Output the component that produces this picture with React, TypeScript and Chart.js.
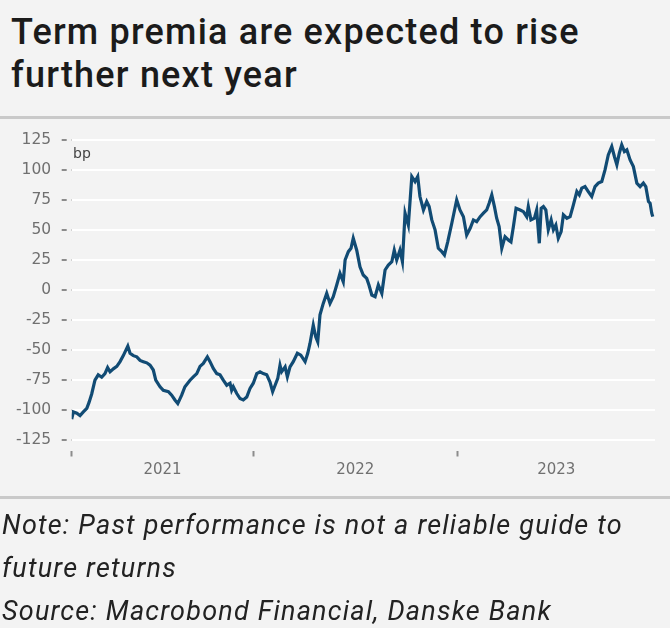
import React, { useEffect, useRef } from 'react';
import { Chart, registerables } from 'chart.js';

Chart.register(...registerables);

// Decimal-year dates of the series
const dates: number[] = [
  2021.110, 2021.118, 2021.135, 2021.151, 2021.167, 2021.184, 2021.195, 2021.208, 2021.224, 2021.240,
  2021.257, 2021.273, 2021.286, 2021.298, 2021.314, 2021.331, 2021.347, 2021.363, 2021.385, 2021.396,
  2021.412, 2021.429, 2021.445, 2021.461, 2021.478, 2021.494, 2021.510, 2021.522, 2021.543, 2021.559,
  2021.584, 2021.600, 2021.616, 2021.630, 2021.649, 2021.665, 2021.690,
  2021.706, 2021.723, 2021.739, 2021.755, 2021.775, 2021.788, 2021.804, 2021.821, 2021.837, 2021.853,
  2021.870, 2021.886, 2021.894, 2021.902, 2021.919, 2021.935, 2021.951, 2021.968, 2021.984, 2022.000,
  2022.017, 2022.033, 2022.049, 2022.066, 2022.082, 2022.095, 2022.107, 2022.120, 2022.131, 2022.139,
  2022.156, 2022.167, 2022.180, 2022.196, 2022.216, 2022.233, 2022.254,
  2022.267, 2022.278, 2022.294, 2022.306, 2022.316, 2022.327, 2022.343, 2022.360, 2022.376, 2022.392,
  2022.409, 2022.425, 2022.441, 2022.450, 2022.466, 2022.479, 2022.490, 2022.507, 2022.523, 2022.539,
  2022.556, 2022.567, 2022.581, 2022.597, 2022.613, 2022.630, 2022.646, 2022.662, 2022.679, 2022.691,
  2022.703, 2022.719, 2022.731,
  2022.744, 2022.760, 2022.777, 2022.793, 2022.806, 2022.817, 2022.834, 2022.850, 2022.862, 2022.875,
  2022.891, 2022.907, 2022.924, 2022.937, 2022.953, 2022.973, 2022.997, 2023.013, 2023.030, 2023.046,
  2023.063, 2023.079, 2023.095, 2023.112, 2023.128, 2023.144, 2023.156, 2023.169, 2023.182, 2023.193,
  2023.205, 2023.218, 2023.234, 2023.250, 2023.263, 2023.275, 2023.288, 2023.308, 2023.324, 2023.340,
  2023.348, 2023.361, 2023.378, 2023.389, 2023.402, 2023.411, 2023.422, 2023.434, 2023.446, 2023.460,
  2023.471, 2023.483, 2023.495, 2023.509, 2023.520, 2023.537, 2023.553, 2023.569, 2023.586, 2023.598,
  2023.610, 2023.626, 2023.642, 2023.659, 2023.675, 2023.691, 2023.708, 2023.724, 2023.740, 2023.757,
  2023.770, 2023.782, 2023.794, 2023.806, 2023.819, 2023.831, 2023.847, 2023.863, 2023.880, 2023.896,
  2023.912, 2023.924, 2023.937, 2023.945, 2023.953, 2023.958,
];

// Term premia, bp
const termPremia: number[] = [
  -108, -102, -103, -105, -102, -99, -94, -87, -75.5, -71,
  -73, -70, -65, -68.5, -66, -64, -60, -55, -47, -53,
  -55, -56, -59, -60, -61, -63, -67, -75.5, -81, -84,
  -85, -88, -92, -95, -88, -81, -75.5,
  -72.7, -70, -64, -61.5, -56, -60, -65.7, -70, -71, -75.5,
  -79.7, -78, -84, -81, -86.6, -90.8, -92, -89.5, -82.4, -78,
  -70, -68.5, -70, -71, -77, -85, -79.7, -74, -63, -68.5,
  -64.4, -72.7, -64.4, -60, -53, -54.6, -60,
  -53, -44.8, -29.5, -39.3, -43.5, -21, -11.4, -3, -11.4, -5.8,
  4, 13.7, 6.7, 24.8, 31.8, 34.6, 43, 33, 19.2, 12.3,
  9.5, 4, -4.4, -5.8, 4, -3, 16.5, 20.6, 23.4, 33,
  24.8, 33, 23.4,
  63.9, 54, 94.5, 90.3, 94.5, 77.8, 66.6, 73.6, 69.4, 58.3,
  50, 34.6, 31.8, 29, 40, 55.5, 75, 66.6, 61, 45.7,
  51.3, 58.3, 56.9, 61, 63.9, 66.6, 72.2, 79.2, 69.4, 59.7,
  52.7, 34.6, 44.3, 41.6, 40, 52.7, 68, 66.6, 65.2, 61,
  69.4, 58.3, 59.7, 66.6, 38.8, 68, 69.4, 66.6, 50, 58.3,
  50, 54, 43, 48.5, 62.5, 59.7, 61, 70.8, 82, 79.2,
  84.8, 86.1, 82, 77.8, 86.1, 89, 90.3, 100, 112.6, 119.6,
  111.2, 104.3, 114, 121, 115.4, 116.8, 108.4, 102.8, 89, 86.1,
  89, 86.1, 73.6, 72.2, 63.9, 61,
];

const xMin = 2021.11;
const xMax = 2023.969;
const yearTickPositions: number[] = [2021.11, 2022, 2023];
const yearLabels: string[] = ['2021', '2022', '2023'];
const yearLabelPositions: number[] = [2021.555, 2022.5, 2023.485];
const yTickValues: number[] = [-125, -100, -75, -50, -25, 0, 25, 50, 75, 100, 125];

const BG = '#f3f3f3';
const FONT = 'Roboto, "DejaVu Sans", sans-serif';
const TICK_FONT = '"DejaVu Sans", sans-serif';

function isYearTick(v: number) {
  return yearTickPositions.some((p) => Math.abs(p - v) < 1e-6);
}

export default function App() {
  const canvasRef = useRef<HTMLCanvasElement | null>(null);

  useEffect(() => {
    if (!canvasRef.current) return;
    const points = dates.map((d, i) => ({ x: d, y: termPremia[i] }));
    const chart = new Chart(canvasRef.current, {
      type: 'line',
      data: {
        datasets: [
          {
            label: 'Term premia',
            data: points,
            borderColor: '#114b74',
            borderWidth: 3.2,
            pointRadius: 0,
            tension: 0,
            fill: false,
          },
        ],
      },
      options: {
        animation: false,
        responsive: false,
        devicePixelRatio: 1,
        layout: { padding: { top: 20, right: 15, bottom: 20.5, left: 0 } },
        plugins: {
          legend: { display: false },
          tooltip: { enabled: false },
        },
        scales: {
          x: {
            type: 'linear',
            min: xMin,
            max: xMax,
            border: { display: false },
            afterBuildTicks: (scale: any) => {
              const vals = [...yearTickPositions, ...yearLabelPositions].sort((a, b) => a - b);
              scale.ticks = vals.map((v) => ({ value: v }));
            },
            afterFit: (scale: any) => {
              scale.height = 40;
            },
            ticks: {
              autoSkip: false,
              maxRotation: 0,
              padding: 5,
              color: '#707070',
              font: { family: TICK_FONT, size: 15 },
              callback: (value: any) => {
                const idx = yearLabelPositions.findIndex((p) => Math.abs(p - Number(value)) < 1e-6);
                return idx >= 0 ? yearLabels[idx] : '';
              },
            },
            grid: {
              drawOnChartArea: false,
              drawTicks: true,
              tickLength: 17,
              tickWidth: 2,
              tickBorderDash: [6, 11],
              tickBorderDashOffset: 6,
              tickColor: (ctx: any) =>
                ctx.tick && isYearTick(ctx.tick.value) ? '#8c8c8c' : 'rgba(0,0,0,0)',
            },
          },
          y: {
            type: 'linear',
            min: -125,
            max: 125,
            border: { display: false },
            afterBuildTicks: (scale: any) => {
              scale.ticks = yTickValues.map((v) => ({ value: v }));
            },
            afterFit: (scale: any) => {
              scale.width = 71.7;
            },
            ticks: {
              padding: 10.5,
              color: '#707070',
              font: { family: TICK_FONT, size: 15.5 },
            },
            grid: {
              color: '#ffffff',
              lineWidth: 2,
              drawTicks: true,
              tickLength: 10,
              tickWidth: 2,
              tickColor: '#8c8c8c',
              tickBorderDash: [5, 5],
              tickBorderDashOffset: 0,
            },
          },
        },
      },
    });
    return () => chart.destroy();
  }, []);

  return (
    <div
      style={{
        position: 'fixed',
        left: 0,
        top: 0,
        width: 670,
        height: 628,
        background: BG,
        overflow: 'hidden',
        fontFamily: FONT,
      }}
    >
      <div
        style={{
          position: 'absolute',
          left: 11,
          top: 11,
          fontSize: 36,
          fontWeight: 500,
          letterSpacing: '1.2px',
          lineHeight: '43px',
          color: '#1b1b1b',
          whiteSpace: 'nowrap',
        }}
      >
        <div>Term premia are expected to rise</div>
        <div>further next year</div>
      </div>
      <div
        style={{
          position: 'absolute',
          left: 0,
          top: 116,
          width: 670,
          height: 3,
          background: '#c9c9c9',
        }}
      />
      <canvas
        ref={canvasRef}
        width={670}
        height={380}
        style={{ position: 'absolute', left: 0, top: 120, width: 670, height: 380 }}
      />
      <div
        style={{
          position: 'absolute',
          left: 73,
          top: 145,
          fontSize: 14,
          color: '#444444',
          fontFamily: TICK_FONT,
        }}
      >
        bp
      </div>
      <div
        style={{
          position: 'absolute',
          left: 0,
          top: 496,
          width: 670,
          height: 3,
          background: '#c9c9c9',
        }}
      />
      <div
        style={{
          position: 'absolute',
          left: 2,
          top: 504,
          fontSize: 27,
          fontStyle: 'italic',
          letterSpacing: '1.2px',
          lineHeight: '43px',
          color: '#222222',
          whiteSpace: 'nowrap',
        }}
      >
        <div>Note: Past performance is not a reliable guide to</div>
        <div>future returns</div>
        <div>Source: Macrobond Financial, Danske Bank</div>
      </div>
    </div>
  );
}
